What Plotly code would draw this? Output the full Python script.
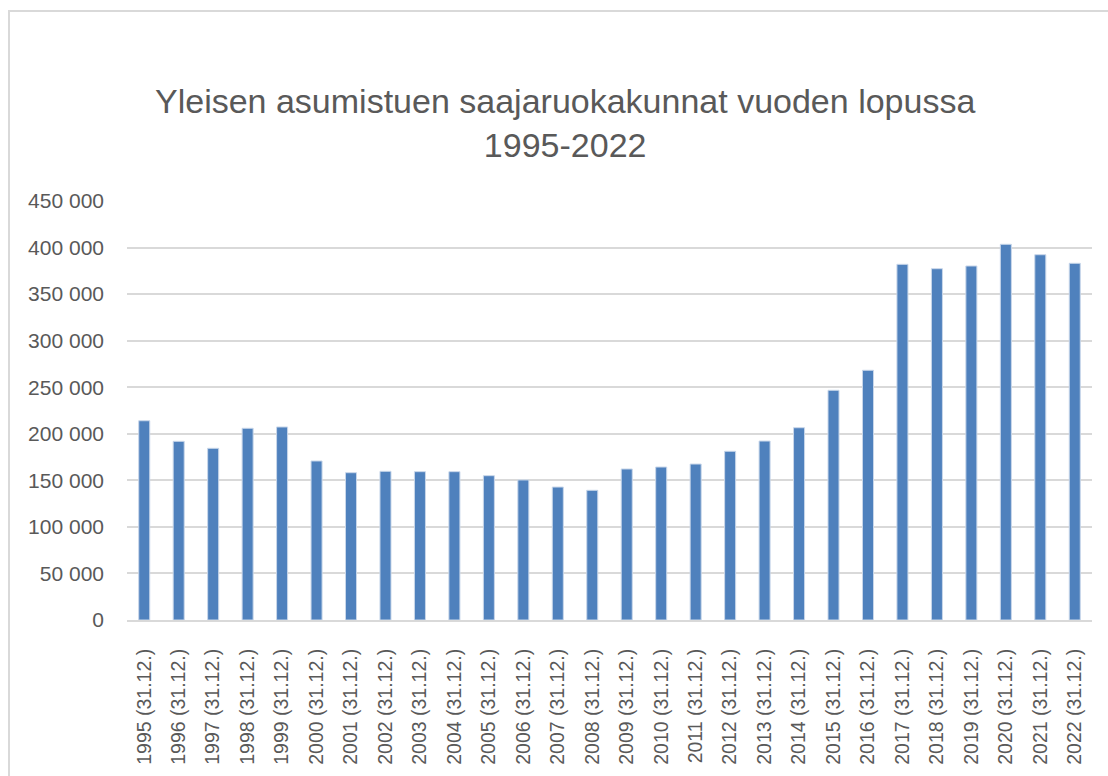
import plotly.graph_objects as go

years = list(range(1995, 2023))
categories = [f"{y} (31.12.)" for y in years]
values = [214000, 191900, 184400, 205900, 207300, 170800, 158200, 159700,
          159300, 159300, 155000, 150400, 142800, 139300, 162200, 164300,
          167500, 181200, 192200, 206500, 246700, 268200, 382000, 377300,
          380200, 403500, 392300, 383100]
y_ticks = [0, 50000, 100000, 150000, 200000, 250000, 300000, 350000, 400000, 450000]
y_tick_labels = ["0", "50 000", "100 000", "150 000", "200 000", "250 000",
                 "300 000", "350 000", "400 000", "450 000"]
title_text = "Yleisen asumistuen saajaruokakunnat vuoden lopussa<br>1995-2022"

FONT = "Arial, Liberation Sans, sans-serif"
GRAY = "#595959"
GRID = "#D9D9D9"

W, H = 1108, 776
PLOT_L, PLOT_R, PLOT_T, PLOT_B = 127, 1092, 201, 620  # page pixels
L, R, T, B = PLOT_L, W - PLOT_R, PLOT_T, H - PLOT_B
pw, ph = W - L - R, H - T - B

def px(xp):
    return (xp - PLOT_L) / pw

def py(yp):
    return (PLOT_B - yp) / ph

fig = go.Figure(go.Bar(
    x=categories, y=values,
    marker=dict(color="#4F81BD", line=dict(color="#C9D7EA", width=1)),
    width=0.32,
))

fig.update_layout(
    width=W, height=H, autosize=False,
    margin=dict(l=L, r=R, t=T, b=B, pad=0, autoexpand=False),
    paper_bgcolor="white", plot_bgcolor="white",
    showlegend=False,
    font=dict(family=FONT, color=GRAY, size=21),
    xaxis=dict(
        automargin=False,
        tickangle=-90, tickfont=dict(size=19.5, color=GRAY),
        showgrid=False, showline=True, linecolor=GRID, linewidth=2,
        ticks="", ticklabelstandoff=19, range=[-0.5, len(categories) - 0.5],
    ),
    yaxis=dict(
        automargin=False,
        range=[0, 450000], tickvals=y_ticks, ticktext=y_tick_labels,
        tickfont=dict(size=21, color=GRAY),
        showgrid=True, gridcolor=GRID, gridwidth=2,
        zeroline=False, showline=False, ticks="", ticklabelstandoff=22,
    ),
    annotations=[dict(
        text=title_text, xref="paper", yref="paper",
        x=px(565), y=py(123), xanchor="center", yanchor="middle",
        showarrow=False, align="center",
        font=dict(family=FONT, size=34, color=GRAY),
    )],
    shapes=[dict(
        type="rect", xref="paper", yref="paper",
        x0=px(9), x1=px(1125), y0=py(800), y1=py(11),
        line=dict(color=GRID, width=2), fillcolor="rgba(0,0,0,0)", layer="below",
    )],
)

fig.write_html("out.html", config={"displayModeBar": False},
               post_script="document.body.style.margin='0';")
